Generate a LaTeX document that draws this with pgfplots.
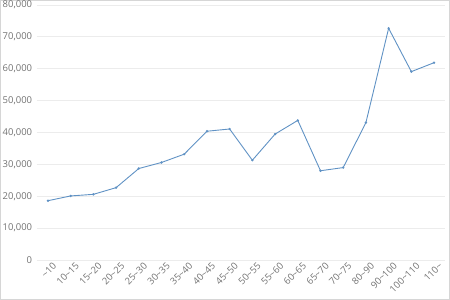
\documentclass[border=0pt]{standalone}
\usepackage{fontspec}
\setmainfont{Open Sans}
\usepackage{pgfplots}
\pgfplotsset{compat=1.18}
\definecolor{linec}{RGB}{96,146,196}
\definecolor{gridc}{RGB}{236,236,236}
\definecolor{labc}{RGB}{115,115,115}
\begin{document}
\begin{tikzpicture}
\path[use as bounding box] (0,0) rectangle (450bp,300bp);
\draw[gridc!80!gray, line width=0.8bp] (0.4bp,0.4bp) rectangle (449.6bp,299.6bp);
\begin{axis}[
  at={(36.6bp,40bp)}, anchor=south west,
  scale only axis, width=408.8bp, height=255bp,
  xmin=-0.5, xmax=17.5, ymin=0, ymax=80000,
  axis line style={draw=none},
  ytick={0,10000,...,80000},
  xtick={0,...,17},
  xticklabels={{\textasciitilde10},{10\textasciitilde15},{15\textasciitilde20},{20\textasciitilde25},{25\textasciitilde30},{30\textasciitilde35},{35\textasciitilde40},{40\textasciitilde45},{45\textasciitilde50},{50\textasciitilde55},{55\textasciitilde60},{60\textasciitilde65},{65\textasciitilde70},{70\textasciitilde75},{80\textasciitilde90},{90\textasciitilde100},{100\textasciitilde110},{110\textasciitilde}},
  major tick length=0pt,
  ymajorgrids, grid style={gridc, line width=0.8bp},
  scaled y ticks=false,
  /pgf/number format/assume math mode=true,
  /pgf/number format/1000 sep={,},
  tick label style={font=\fontsize{9.5}{11}\selectfont, text=labc},
  yticklabel style={anchor=east, xshift=-1bp},
  xticklabel style={rotate=45, anchor=north east, xshift=3bp, yshift=-3bp, inner sep=1bp},
  clip=false,
]
\addplot[linec, line width=0.9bp, mark=*, mark size=0.7bp] coordinates {
(0,18600) (1,20100) (2,20600) (3,22700) (4,28700) (5,30600) (6,33200) (7,40400) (8,41100) (9,31300) (10,39500) (11,43800) (12,28000) (13,29000) (14,43100) (15,72700) (16,59100) (17,61900)
};
\end{axis}
\end{tikzpicture}
\end{document}
